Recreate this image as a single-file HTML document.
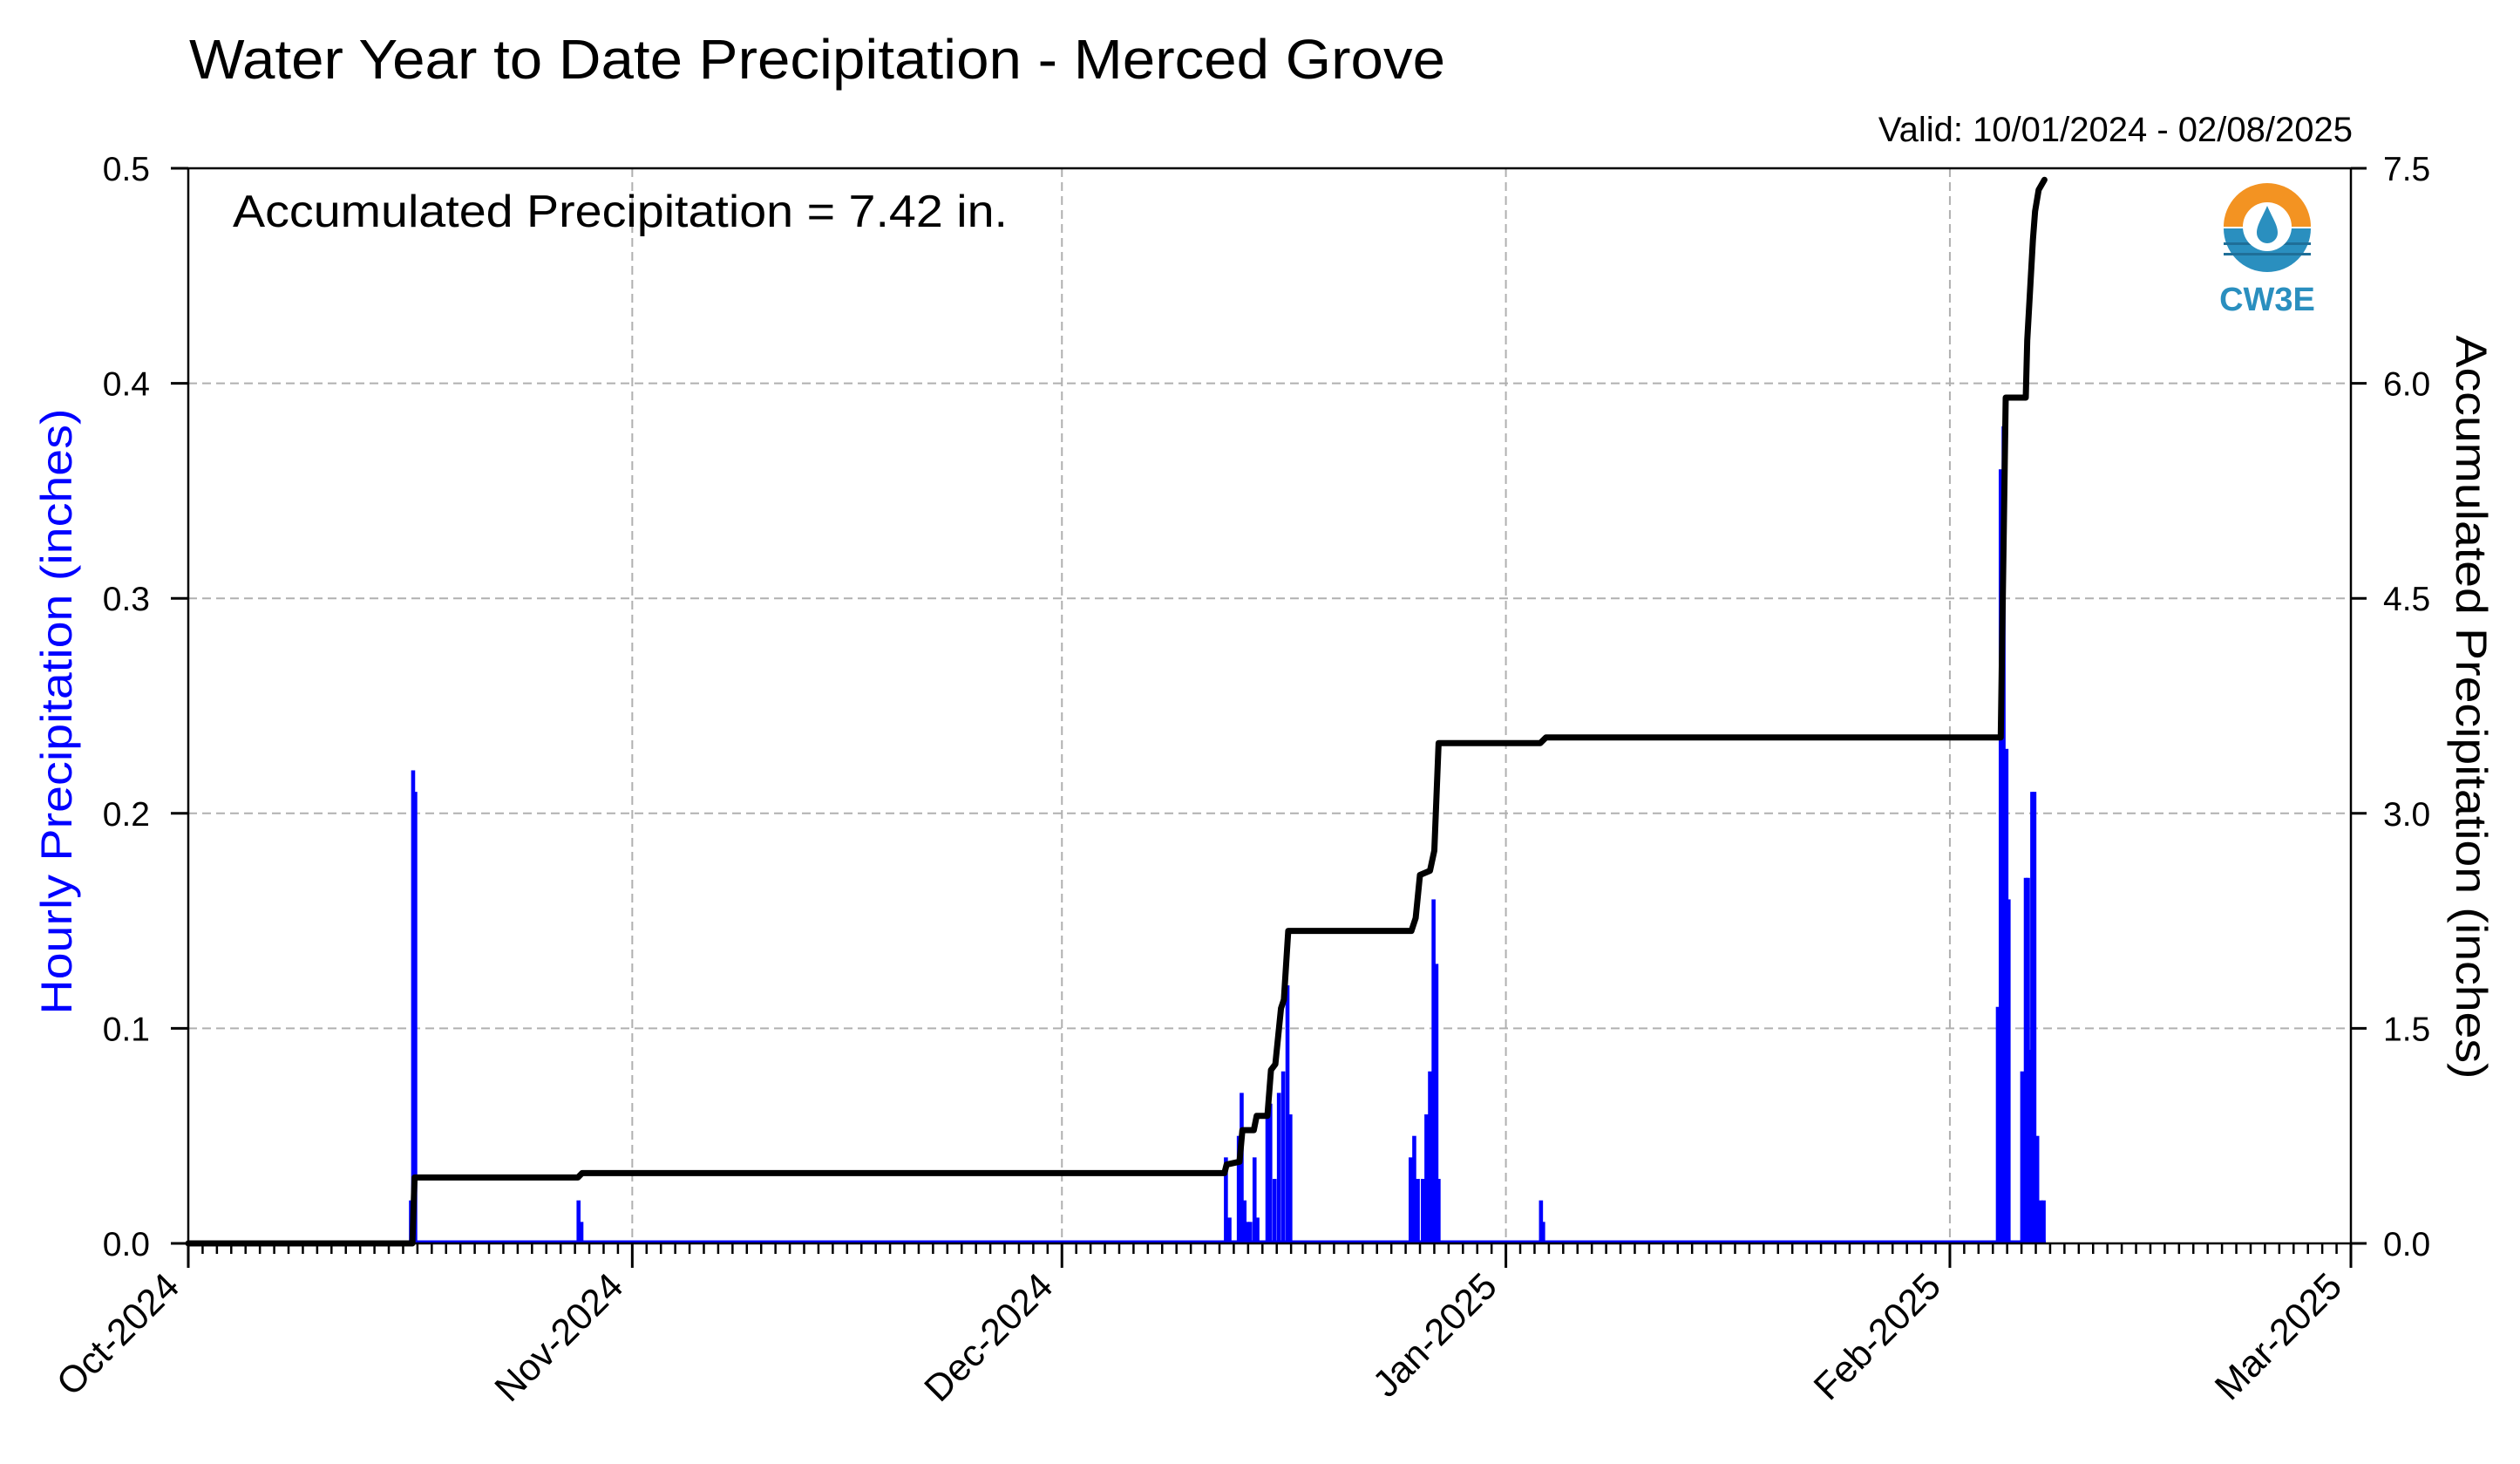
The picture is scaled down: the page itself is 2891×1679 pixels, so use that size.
<!DOCTYPE html>
<html><head><meta charset="utf-8"><style>
html,body{margin:0;padding:0;background:#fff;}
svg{display:block;font-family:"Liberation Sans",Arial,sans-serif;}
</style></head><body>
<svg id="chart" width="2891" height="1679" viewBox="0 0 2891 1679" xmlns="http://www.w3.org/2000/svg">
<rect width="2891" height="1679" fill="#fff"/>
<text x="217" y="90" font-size="64" textLength="1441" lengthAdjust="spacingAndGlyphs" fill="#000">Water Year to Date Precipitation - Merced Grove</text>
<text x="2699" y="162" font-size="40" text-anchor="end" fill="#000">Valid: 10/01/2024 - 02/08/2025</text>
<g id="grid"></g>
<g id="bars"></g>
<g id="accum"></g>
<g id="axes"></g>
<text x="267" y="260" font-size="52" textLength="889" lengthAdjust="spacingAndGlyphs" fill="#000">Accumulated Precipitation = 7.42 in.</text>
<text transform="translate(82,816) rotate(-90)" font-size="50" textLength="695" lengthAdjust="spacingAndGlyphs" text-anchor="middle" fill="#0000ff">Hourly Precipitation (inches)</text>
<text transform="translate(2818,811) rotate(90)" font-size="50" textLength="853" lengthAdjust="spacingAndGlyphs" text-anchor="middle" fill="#000">Accumulated Precipitation (inches)</text>
<g>
  <path d="M2551,260 A50,50 0 0 1 2651,260 Z" fill="#f39322"/>
  <path d="M2551,262 A50,50 0 0 0 2651,262 Z" fill="#2a8fbf"/>
  <rect x="2551" y="278" width="100" height="3" fill="#1f6f98"/>
  <rect x="2551" y="290" width="100" height="3" fill="#1f6f98"/>
  <circle cx="2601" cy="260" r="28" fill="#fff"/>
  <path d="M2601,236 C2607,250 2613,258 2613,267 A12,12 0 0 1 2589,267 C2589,258 2595,250 2601,236 Z" fill="#2a8fbf"/>
  <text x="2601" y="356" font-size="38" font-weight="bold" text-anchor="middle" fill="#2a8fbf">CW3E</text>
</g>
</svg>
<script>
const monthLabels = ["Oct-2024","Nov-2024","Dec-2024","Jan-2025","Feb-2025","Mar-2025"];
const monthDays = [0,31,61,92,123,151];
const leftTicks = [0.0,0.1,0.2,0.3,0.4,0.5];
const rightTicks = [0.0,1.5,3.0,4.5,6.0,7.5];
const barDays = [15.55,15.7,15.85,27.25,27.45,
 72.45,72.7,73.35,73.55,73.75,73.95,74.15,74.45,74.65,
 75.35,75.55,75.85,76.15,76.45,76.75,76.95,
 85.35,85.6,85.85,86.2,86.45,86.7,86.95,87.15,87.3,
 94.45,94.6,
 126.35,126.55,126.75,126.95,127.1,
 128.05,128.3,128.45,128.6,128.75,128.9,129.1,129.35,129.55];
const barVals = [0.02,0.22,0.21,0.02,0.01,
 0.04,0.012,0.05,0.07,0.02,0.01,0.01,0.04,0.012,
 0.06,0.065,0.03,0.07,0.08,0.12,0.06,
 0.04,0.05,0.03,0.03,0.06,0.08,0.16,0.13,0.03,
 0.02,0.01,
 0.11,0.36,0.38,0.23,0.16,
 0.08,0.17,0.17,0.09,0.21,0.21,0.05,0.02,0.02];
const accumDays = [0,15.65,15.8,27.2,27.5,72.35,72.5,73.4,73.6,74.4,74.6,75.35,75.6,75.9,76.3,76.5,76.8,85.4,85.7,86.0,86.7,87.0,87.3,94.4,94.8,126.55,126.9,128.3,128.4,128.8,128.95,129.2,129.6];
const accumVals = [0,0,0.46,0.46,0.49,0.49,0.55,0.57,0.79,0.79,0.89,0.89,1.21,1.25,1.64,1.7,2.18,2.18,2.27,2.57,2.6,2.74,3.49,3.49,3.53,3.53,5.9,5.9,6.3,7.0,7.2,7.35,7.42];

const NS="http://www.w3.org/2000/svg";
const L=216,R=2697,T=193,B=1426,D0=0,D1=151;
const xS=d=>L+(d-D0)/(D1-D0)*(R-L);
const yL=v=>B-v/0.5*(B-T);
const yR=v=>B-v/7.5*(B-T);
function mk(tag,attrs,parent){const e=document.createElementNS(NS,tag);for(const k in attrs)e.setAttribute(k,attrs[k]);parent.appendChild(e);return e;}
const grid=document.getElementById('grid'),bars=document.getElementById('bars'),acc=document.getElementById('accum'),axes=document.getElementById('axes');
leftTicks.forEach(v=>{if(v>0){const g=mk('line',{x1:L,x2:R,y1:yL(v),y2:yL(v),stroke:'#b0b0b0','stroke-width':2,'stroke-dasharray':'10,6'},grid);

}});
monthDays.forEach(d=>{if(d>0&&d<D1){const g=mk('line',{x1:xS(d),x2:xS(d),y1:T,y2:B,stroke:'#b0b0b0','stroke-width':2,'stroke-dasharray':'10,6'},grid);

}});
const bl=mk('line',{x1:xS(15.5),x2:xS(129.7),y1:B-1.5,y2:B-1.5,stroke:'#0000ff','stroke-width':4},bars);


const bw=0.28;
barDays.forEach((d,i)=>{const x0=xS(d-bw/2),x1=xS(d+bw/2);const y=yL(barVals[i]);
const r=mk('rect',{x:x0,y:y,width:Math.max(1,x1-x0),height:B-y,fill:'#0000ff'},bars);

});
const pts=accumDays.map((d,i)=>xS(d).toFixed(1)+','+yR(accumVals[i]).toFixed(1)).join(' ');
const pl=mk('polyline',{points:pts,fill:'none',stroke:'#000','stroke-width':7,'stroke-linejoin':'round','stroke-linecap':'round'},acc);


const fr=mk('rect',{x:L,y:T,width:R-L,height:B-T,fill:'none',stroke:'#000','stroke-width':2.5},axes);


leftTicks.forEach(v=>{const y=yL(v);
const t=mk('line',{x1:L-20,x2:L,y1:y,y2:y,stroke:'#000','stroke-width':3},axes);


const tx=mk('text',{x:L-44,y:y+14,'font-size':39,'text-anchor':'end',fill:'#000'},axes);tx.textContent=v.toFixed(1);

});
rightTicks.forEach(v=>{const y=yR(v);
const t=mk('line',{x1:R,x2:R+18,y1:y,y2:y,stroke:'#000','stroke-width':3},axes);


const tx=mk('text',{x:R+37,y:y+14,'font-size':39,fill:'#000'},axes);tx.textContent=v.toFixed(1);

});
for(let d=D0;d<=D1;d++){if(monthDays.includes(d))continue;
const t=mk('line',{x1:xS(d),x2:xS(d),y1:B,y2:B+12,stroke:'#000','stroke-width':2.5},axes);

}
monthDays.forEach((d,i)=>{const x=xS(d);
const t=mk('line',{x1:x,x2:x,y1:B,y2:B+28,stroke:'#000','stroke-width':3},axes);


const tx=mk('text',{transform:`translate(${x-8},${B+52}) rotate(-45)`,'font-size':43,'text-anchor':'end',fill:'#000'},axes);tx.textContent=monthLabels[i];

});
</script>
</body></html>
